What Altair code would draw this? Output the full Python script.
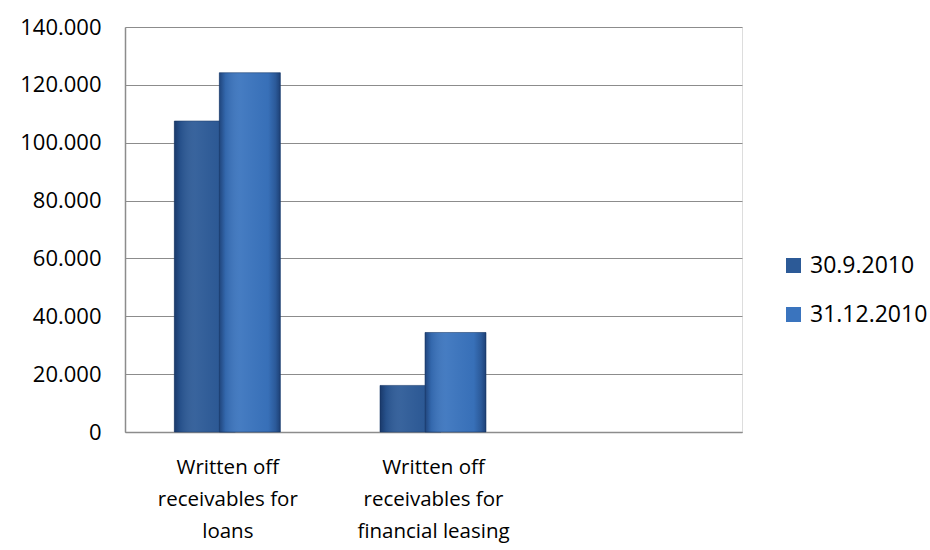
import altair as alt
import pandas as pd

# Written-off receivables, two reporting dates
categories = ["Written off\nreceivables for\nloans",
              "Written off\nreceivables for\nfinancial leasing",
              " "]
series = ["30.9.2010", "31.12.2010"]
values_sep = [107500, 16100]
values_dec = [124200, 34400]
y_ticks = [0, 20000, 40000, 60000, 80000, 100000, 120000, 140000]

rows = []
for cat, v in zip(categories[:2], values_sep):
    rows.append({"category": cat, "series": series[0], "value": v})
for cat, v in zip(categories[:2], values_dec):
    rows.append({"category": cat, "series": series[1], "value": v})
df = pd.DataFrame(rows)

FONT = "Open Sans"
colors = ["#2C5A97", "#3A74BE"]
offsets = [-23, 22]
BAR_W = 61

x_enc = alt.X("category:N", sort=categories,
              scale=alt.Scale(domain=categories, paddingInner=0, paddingOuter=0),
              axis=alt.Axis(title=None, labelAngle=0, labelExpr="split(datum.label, '\\n')",
                            labelFontSize=20.5, labelFont=FONT, labelColor="#000000",
                            labelLineHeight=32, labelPadding=25, labelBaseline="top",
                            ticks=False, domainColor="#8C8C8C", domainWidth=1.5))
y_enc = alt.Y("value:Q",
              scale=alt.Scale(domain=[0, 140000], nice=False),
              axis=alt.Axis(title=None, values=y_ticks,
                            labelExpr="replace(format(datum.value, ','), ',', '.')",
                            labelFontSize=22, labelFont=FONT, labelColor="#000000",
                            labelPadding=24, ticks=False, grid=True,
                            gridColor="#8C8C8C", gridWidth=1,
                            domainColor="#8C8C8C", domainWidth=1.5))

# bevel-like shading laid over each column
shade = alt.Gradient(
    gradient="linear", x1=0, x2=1, y1=0, y2=0,
    stops=[alt.GradientStop(offset=0, color="rgba(10,30,70,0.55)"),
           alt.GradientStop(offset=0.1, color="rgba(10,30,70,0.15)"),
           alt.GradientStop(offset=0.35, color="rgba(255,255,255,0.06)"),
           alt.GradientStop(offset=0.8, color="rgba(10,30,70,0.05)"),
           alt.GradientStop(offset=0.92, color="rgba(10,30,70,0.3)"),
           alt.GradientStop(offset=1, color="rgba(10,30,70,0.6)")])

layers = []
for s, off in zip(series, offsets):
    base = alt.Chart(df).transform_filter(alt.datum.series == s)
    layers.append(base.mark_bar(width=BAR_W, xOffset=off, stroke="#1F3F6E", strokeWidth=0.6).encode(
        x=x_enc, y=y_enc,
        color=alt.Color("series:N", scale=alt.Scale(domain=series, range=colors),
                        legend=alt.Legend(title=None, orient="none", legendX=657, legendY=227,
                                          symbolType="square", symbolSize=225,
                                          symbolStrokeWidth=0, labelFontSize=23,
                                          labelFont=FONT, labelColor="#000000",
                                          rowPadding=25, labelOffset=5))))
    layers.append(base.mark_bar(width=BAR_W, xOffset=off, fill=shade).encode(x=x_enc, y=y_enc))

chart = alt.layer(*layers).properties(
    width=617, height=405,
    autosize=alt.AutoSizeParams(type="none"),
    padding={"left": 125, "top": 27, "right": 188, "bottom": 118},
).configure_view(stroke=None).configure(background="#FFFFFF")

chart.save("out.html", embed_options={"renderer": "svg", "actions": False})
